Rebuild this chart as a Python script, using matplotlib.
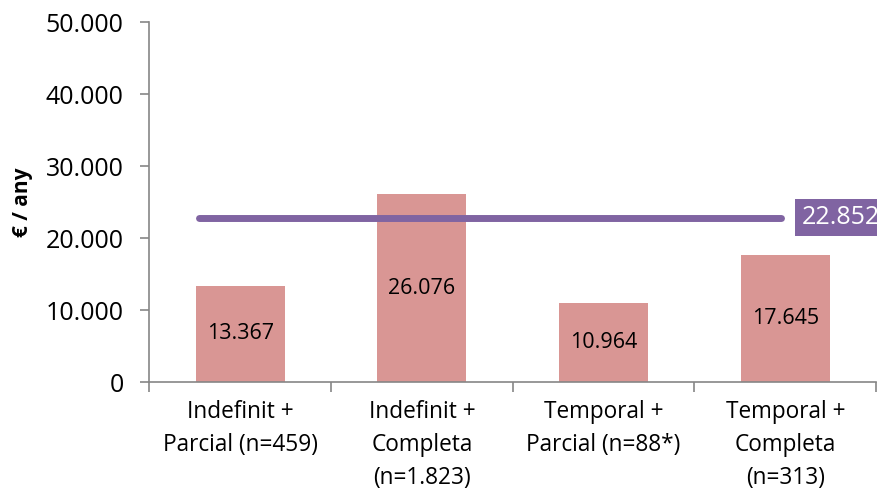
import numpy as np
import matplotlib.pyplot as plt

plt.rcParams['font.family'] = ['Open Sans', 'DejaVu Sans']

categories = ["Indefinit +\nParcial (n=459)", "Indefinit +\nCompleta\n(n=1.823)",
              "Temporal +\nParcial (n=88*)", "Temporal +\nCompleta\n(n=313)"]
values = [13367, 26076, 10964, 17645]
mean_value = 22852

bar_color = "#D99694"
line_color = "#8064A2"


def fmt(v):
    return f"{v:,.0f}".replace(",", ".")


fig = plt.figure(figsize=(8.78, 4.93), dpi=100)
ax = fig.add_axes([0.170, 0.225, 0.828, 0.730])

x = np.arange(len(values))
ax.bar(x, values, width=0.49, color=bar_color, zorder=2)
for xi, v in zip(x, values):
    ax.text(xi, v / 2, fmt(v), ha="center", va="center", fontsize=15.5, color="black", zorder=3)

ax.plot([-0.225, 2.975], [mean_value, mean_value], color=line_color, lw=5,
        solid_capstyle="round", zorder=4)
ax.text(3.09, mean_value, fmt(mean_value), ha="left", va="center", fontsize=18,
        color="white", zorder=5, clip_on=False,
        bbox=dict(boxstyle="square,pad=0.25", fc=line_color, ec="none"))

ax.set_xlim(-0.5, 3.5)
ax.set_ylim(0, 50000)
ax.set_yticks(np.arange(0, 50001, 10000))
ax.set_yticklabels([fmt(t) for t in np.arange(0, 50001, 10000)], fontsize=18)
ax.set_xticks(x)
ax.set_xticklabels(categories, fontsize=16.3, linespacing=1.5)
ax.tick_params(axis="x", which="major", length=0, pad=13)
ax.set_xticks(np.arange(-0.5, 3.51, 1.0), minor=True)
ax.tick_params(axis="x", which="minor", length=7, color="#868686", width=1.2)
ax.tick_params(axis="y", length=6.5, color="#868686", width=1.2, pad=12)

for s in ["top", "right"]:
    ax.spines[s].set_visible(False)
for s in ["left", "bottom"]:
    ax.spines[s].set_color("#868686")
    ax.spines[s].set_linewidth(1.2)

ax.set_ylabel("€ / any", fontsize=15, fontweight="bold", labelpad=9)

fig.savefig("out.png", dpi=100)
